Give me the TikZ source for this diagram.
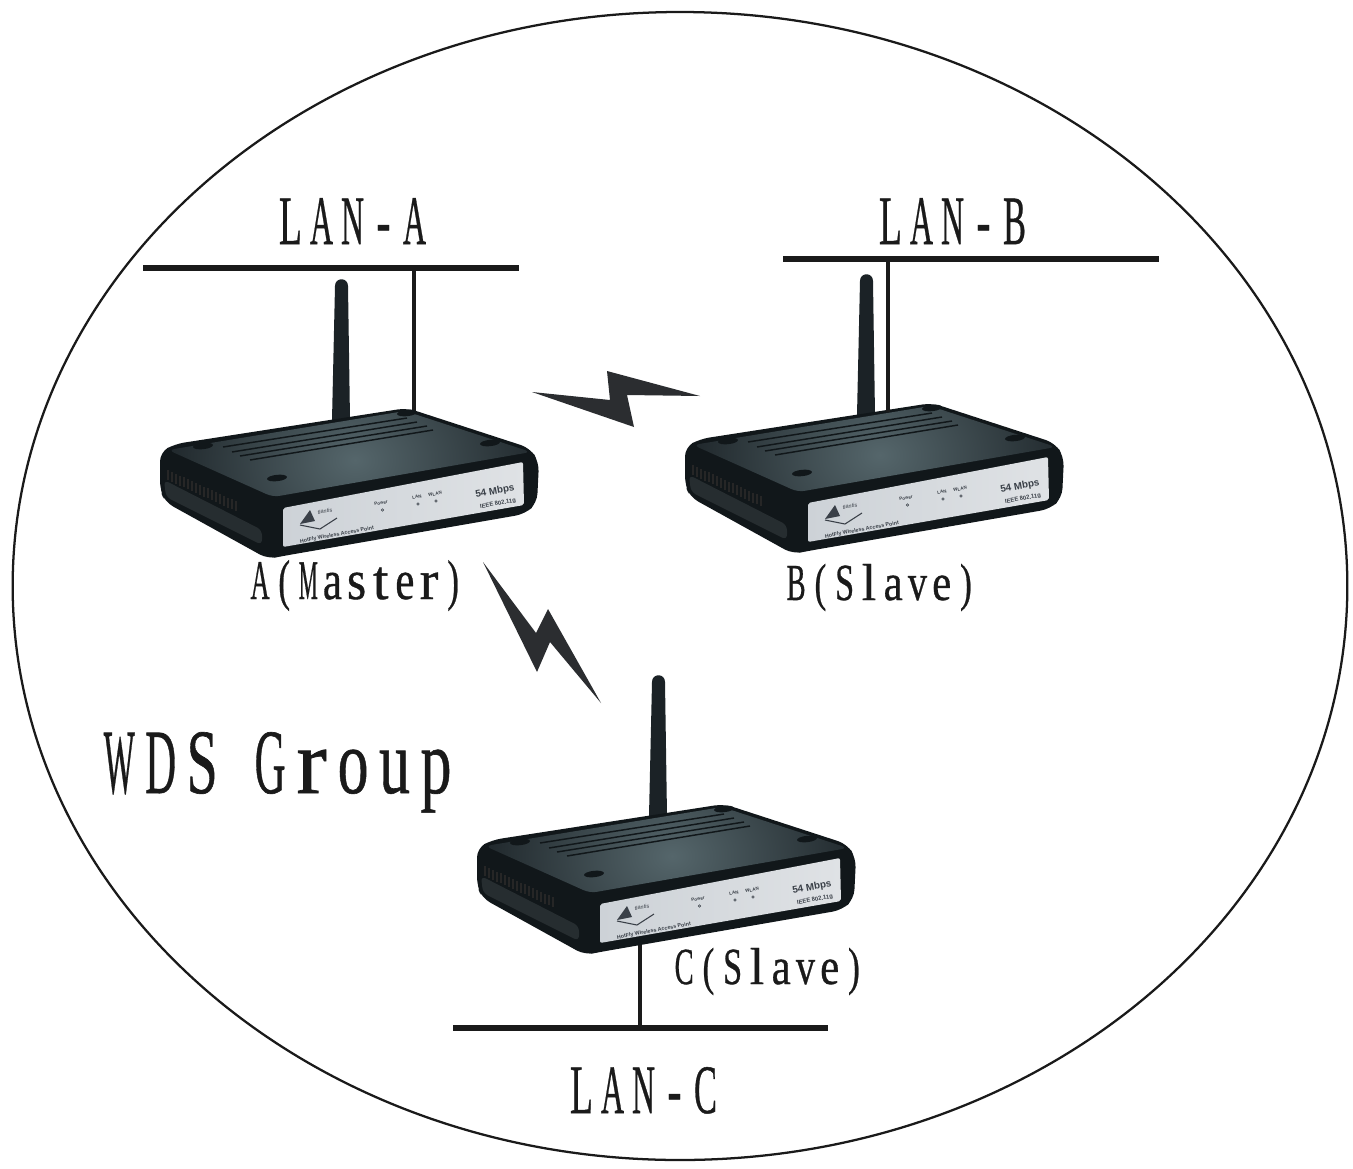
\documentclass[tikz,border=0pt]{standalone}
\usepackage{graphicx}
\usepackage{fontspec}
\setmainfont{Liberation Serif}
\newfontfamily\lblfont[RawFeature={embolden=0.7}]{Liberation Serif}
\newfontfamily\panelfont{Liberation Sans}
\definecolor{bodydark}{HTML}{1B2226}
\definecolor{bodyedge}{HTML}{11171A}
\definecolor{toplight}{HTML}{55666B}
\definecolor{sidegrey}{HTML}{262D30}
\definecolor{panelleft}{HTML}{CDD2D7}
\definecolor{panelmid}{HTML}{BDC3C9}
\definecolor{panelright}{HTML}{DFE2E5}
\definecolor{boltcol}{HTML}{2B2D30}
\definecolor{inkcol}{HTML}{1A1A1A}
\definecolor{paneltext}{HTML}{3A4048}
% evenly spaced letters: every character sits in a box of the same width
\newsavebox\chbox
\newlength\advlen
\newlength\tgtlen
\newlength\thinlen
\newif\ifthinchar
\newcommand{\onechar}[1]{\thincharfalse
  \ifx#1(\thinchartrue\fi\ifx#1)\thinchartrue\fi\ifx#1-\thinchartrue\fi
  \ifx#1~\hspace*{0.64\advlen}\else
    \sbox\chbox{#1}\makebox[\advlen][c]{\ifthinchar\resizebox{\thinlen}{\height}{\usebox\chbox}\else\ifdim\wd\chbox>\tgtlen\relax\resizebox{\tgtlen}{\height}{\usebox\chbox}\else\usebox\chbox\fi\fi}\fi}
\makeatletter
\newcommand{\evenletters}[1]{\@tfor\ch@r:=#1\do{\expandafter\onechar\expandafter{\ch@r}}}
\makeatother
\newcommand{\lbl}[7]{\node[lbltext] (#1) at (#2,#3) {\setlength\advlen{#4pt}\setlength\tgtlen{#5pt}\setlength\thinlen{0.62\tgtlen}\fontsize{#6pt}{#6pt}\lblfont\evenletters{#7}};}
\tikzset{
  lbltext/.style={anchor=base west,inner sep=0pt,outer sep=0pt,text=inkcol},
  lanbar/.style={draw=inkcol,line width=4.6pt},
  lanstub/.style={draw=inkcol,line width=3pt},
  boltshape/.style={fill=boltcol,draw=none},
  smalltxt/.style={inner sep=0pt,text=paneltext,rotate=10.5},
  router/.pic={
    % antenna
    \fill[bodydark] (332,420) -- (335,286) .. controls (335,277) and (348,277) .. (348,286) -- (350,420) -- cycle;
    % body
    \fill[bodyedge,rounded corners=7pt] (160,452) -- (175,444) -- (407,408) -- (530,448) -- (539,462) -- (537,503) -- (525,514) -- (283,556) -- (268,559) -- (165,502) -- (160,490) -- cycle;
    % side face
    \fill[sidegrey,rounded corners=4pt] (164,480) -- (262,530) -- (262,545) -- (166,497) -- cycle;
    \foreach \gx in {168,172,...,238}{
      \draw[black!85,line width=1pt] (\gx,{470+(\gx-168)*0.46}) -- (\gx,{480+(\gx-168)*0.46});
    }
    % top face
    \begin{scope}
      \clip[rounded corners=5pt] (168,450) -- (405,411) -- (531,452) -- (273,497) -- cycle;
      \shade[inner color=toplight,outer color=bodydark] (150,300) rectangle (560,620);
    \end{scope}
    % vent slots
    \draw[bodyedge,line width=1.1pt] (223,447) -- (407,418) (232,452) -- (417,422) (240,456) -- (427,426) (250,460) -- (433,430);
    % feet
    \foreach \fx/\fy in {203/446,277/478,490/443,407/413}{
      \fill[bodyedge] (\fx,\fy) ellipse[x radius=7.5pt,y radius=2.4pt,rotate=6];
    }
    % panel
    \shade[left color=panelleft,middle color=panelmid,right color=panelright,rounded corners=1.5pt] (283,508) -- (523,462) -- (524,505) -- (283,547) -- cycle;
    % panel text and lamps
    \node[smalltxt,font=\panelfont\bfseries\fontsize{3.4pt}{3.4pt}\selectfont] (-power) at (381,503) {Power};
    \node[smalltxt,font=\panelfont\bfseries\fontsize{3.4pt}{3.4pt}\selectfont] (-lan) at (417,497) {LAN};
    \node[smalltxt,font=\panelfont\bfseries\fontsize{3.4pt}{3.4pt}\selectfont] (-wlan) at (435,494) {WLAN};
    \node[smalltxt,font=\panelfont\bfseries\fontsize{7.4pt}{8pt}\selectfont] (-speed) at (495,491.5) {54 Mbps};
    \node[smalltxt,font=\panelfont\bfseries\fontsize{4.4pt}{5pt}\selectfont] (-ieee) at (498,504) {IEEE 802.11g};
    \node[smalltxt,font=\panelfont\bfseries\fontsize{4pt}{4pt}\selectfont] (-name) at (337,535) {HotFly Wireless Access Point};
    \node[smalltxt,font=\panelfont\itshape\fontsize{4.2pt}{4.2pt}\selectfont] (-brand) at (325,511) {tlantis};
    \fill[paneltext] (300,524) -- (310,510) -- (315,521) -- cycle;
    \draw[paneltext,line width=.8pt] (300,525) -- (320,529) -- (337,518);
    \draw[paneltext,line width=.4pt] (382.5,510) circle[radius=1pt] (418,504) circle[radius=1pt] (436,501) circle[radius=1pt];
  }
}
\begin{document}
\begin{tikzpicture}[x=0.75pt,y=-0.75pt]
\path[use as bounding box,fill=white] (0,0) rectangle (1353,1168);
% group outline
\draw[inkcol,line width=1.7pt] (680,586) ellipse[x radius=500.5pt,y radius=430.5pt];
% LAN bars
\coordinate (lanAl) at (143,268); \coordinate (lanAr) at (519,268);
\coordinate (lanBl) at (783,259); \coordinate (lanBr) at (1159,259);
\coordinate (lanCl) at (453,1028); \coordinate (lanCr) at (828,1028);
\draw[lanbar] (lanAl) -- (lanAr);
\draw[lanbar] (lanBl) -- (lanBr);
\draw[lanbar] (lanCl) -- (lanCr);
% stubs
\coordinate (tapA) at (414,268); \coordinate (portA) at (414,412);
\coordinate (tapB) at (888,259); \coordinate (portB) at (888,412);
\coordinate (tapC) at (640,1028); \coordinate (portC) at (640,945);
\draw[lanstub] (tapA) -- (portA);
\draw[lanstub] (tapC) -- (portC);
% routers
\pic (A) at (0,0) {router};
\pic (C) at (317,396) {router};
\pic (B) at (525,-5) {router};
\draw[lanstub] (tapB) -- (portB);
% lightning
\fill[boltshape] (532,392) -- (610,400) -- (607,371) -- (700,396) -- (627,395) -- (634,427) -- cycle;
\fill[boltshape] (483,562) -- (536,633) -- (548,609) -- (601,703) -- (550,642) -- (537,672) -- cycle;
% labels
\lbl{lblLanA}{275}{244}{23.25}{17.25}{52}{LAN-A}
\lbl{lblLanB}{875}{244}{23.25}{17.25}{52}{LAN-B}
\lbl{lblLanC}{566}{1113}{23.25}{17.25}{52}{LAN-C}
\lbl{lblA}{248}{599}{18.1}{14.3}{42}{A(Master)}
\lbl{lblB}{784}{600}{18.2}{14.3}{39}{B(Slave)}
\lbl{lblC}{672}{984}{18.2}{14.3}{39}{C(Slave)}
\lbl{lblWds}{98.5}{793}{31.1}{23.25}{69}{WDS~Group}
\end{tikzpicture}
\end{document}
